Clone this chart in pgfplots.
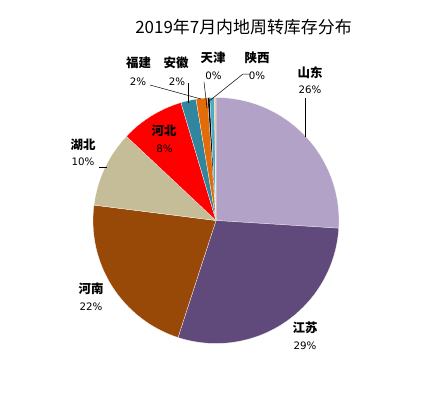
\documentclass[border=0pt]{standalone}
\usepackage{pgfplots}
\usepackage{pgfplotstable}
\pgfplotsset{compat=1.18}
\usepackage{fontspec}
\setmainfont{DejaVu Sans}
\newfontfamily\cjk{Noto Sans CJK SC}
\definecolor{slice0}{HTML}{B3A2C7}
\definecolor{slice1}{HTML}{604A7B}
\definecolor{slice2}{HTML}{984807}
\definecolor{slice3}{HTML}{C4BD97}
\definecolor{slice4}{HTML}{FF0000}
\definecolor{slice5}{HTML}{31859C}
\definecolor{slice6}{HTML}{E36C09}
\definecolor{slice7}{HTML}{000000}
\definecolor{slice8}{HTML}{4BACC6}
\definecolor{slice9}{HTML}{FAC090}
% share of each region, clockwise from 12 o'clock
\pgfplotstableread{
idx value
0 26.0
1 29.0
2 22.0
3 10.0
4 8.4
5 2.0
6 1.5
7 0.3
8 0.6
9 0.2
}\piedata
\newcommand\pct[1]{{\fontsize{10.3}{11}\selectfont #1}}
\newcommand\nm[1]{{\cjk\bfseries\fontsize{12.5}{13}\selectfont #1}}
\begin{document}
\begin{tikzpicture}
\begin{axis}[
  x=1bp, y=1bp,
  xmin=0, xmax=439, ymin=0, ymax=396,
  hide axis, clip=false,
]
\path (axis cs:0,0) rectangle (axis cs:439,396);
\gdef\cum{0}
\pgfplotsinvokeforeach{0,...,9}{
  \pgfplotstablegetelem{#1}{value}\of\piedata
  \pgfmathsetmacro\sa{90-3.6*\cum}
  \pgfmathsetmacro\cumnew{\cum+\pgfplotsretval}
  \pgfmathsetmacro\ea{90-3.6*\cumnew}
  \edef\temp{\noexpand\fill[fill=slice#1, draw=white, line width=0.25pt, line join=round]
    (axis cs:216,175.5) -- ++(\sa:123bp) arc[start angle=\sa, end angle=\ea, radius=123bp] -- cycle;}
  \temp
  \global\let\cum\cumnew
}
% title
\node at (axis cs:243.5,369) {\cjk\fontsize{17}{18}\selectfont 2019年7月内地周转库存分布};
% labels (y = 396 - image y)
\node at (axis cs:310,323) {\nm{山东}};
\node at (axis cs:310,306) {\pct{26\%}};
\node at (axis cs:305,68) {\nm{江苏}};
\node at (axis cs:305,50) {\pct{29\%}};
\node at (axis cs:91,107) {\nm{河南}};
\node at (axis cs:91,89) {\pct{22\%}};
\node at (axis cs:83,251) {\nm{湖北}};
\node at (axis cs:83,234) {\pct{10\%}};
\node at (axis cs:164,265) {\nm{河北}};
\node at (axis cs:164.5,247) {\pct{8\%}};
\node at (axis cs:138.5,333) {\nm{福建}};
\node at (axis cs:138,314) {\pct{2\%}};
\node at (axis cs:176,333) {\nm{安徽}};
\node at (axis cs:177,314) {\pct{2\%}};
\node at (axis cs:213,338) {\nm{天津}};
\node at (axis cs:213.5,320) {\pct{0\%}};
\node at (axis cs:257,338) {\nm{陕西}};
\node at (axis cs:257,320) {\pct{0\%}};
% leader lines
\draw[line width=0.5pt] (axis cs:305,298) -- (axis cs:305,259);
\draw[line width=0.5pt] (axis cs:99,229) -- (axis cs:107,229);
\draw[line width=0.5pt] (axis cs:150,311) -- (axis cs:201,297);
\draw[line width=0.5pt] (axis cs:188,313) -- (axis cs:188,293);
\draw[line width=0.5pt] (axis cs:204,314) -- (axis cs:207,288);
\draw[line width=0.5pt] (axis cs:250,322) -- (axis cs:243,322) -- (axis cs:208,294);
\end{axis}
\end{tikzpicture}
\end{document}
